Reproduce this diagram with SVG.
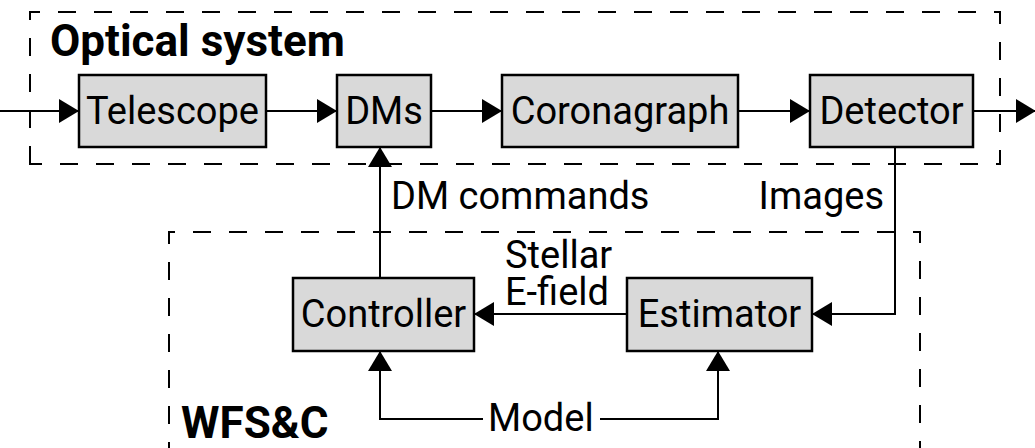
<svg xmlns="http://www.w3.org/2000/svg" width="1035" height="448" viewBox="0 0 1035 448">
<defs>
<marker id="ah" markerWidth="20" markerHeight="24" refX="20" refY="12" orient="auto" markerUnits="userSpaceOnUse">
<path d="M0,0 L20,12 L0,24 Z" fill="#000"/>
</marker>
<style>
.box{fill:#d9d9d9;stroke:#000;stroke-width:2.5}
.lbl{font-family:Roboto,"Liberation Sans",sans-serif;font-size:38px;fill:#000}
.ttl{font-family:Roboto,"Liberation Sans",sans-serif;font-size:44px;font-weight:bold;fill:#000}
.grp{fill:none;stroke:#000;stroke-width:2;stroke-dasharray:18 18}
.con{fill:none;stroke:#000;stroke-width:2}
</style>
</defs>
<rect width="1035" height="448" fill="#fff"/>
<g id="optical-system">
<path class="grp" d="M30,164 L30,12 L1000,12 L1000,164 Z"/>
<text class="ttl" x="50" y="56">Optical system</text>
</g>
<g id="wfsc">
<path class="grp" d="M169,460 L169,232 L920,232 L920,460"/>
<text class="ttl" x="181" y="438">WFS&amp;C</text>
</g>
<g id="connectors">
<path class="con" d="M0,111 L79,111" marker-end="url(#ah)"/>
<path class="con" d="M266,111 L337,111" marker-end="url(#ah)"/>
<path class="con" d="M431,111 L502,111" marker-end="url(#ah)"/>
<path class="con" d="M738,111 L810,111" marker-end="url(#ah)"/>
<path class="con" d="M973,111 L1036,111" marker-end="url(#ah)"/>
<path class="con" d="M895,147 L895,314 L812,314" marker-end="url(#ah)"/>
<path class="con" d="M627,314 L474,314" marker-end="url(#ah)"/>
<path class="con" d="M380,278 L380,147" marker-end="url(#ah)"/>
<path class="con" d="M483,419 L380,419 L380,351" marker-end="url(#ah)"/>
<path class="con" d="M600,419 L718,419 L718,351" marker-end="url(#ah)"/>
<text class="lbl" x="391" y="209">DM commands</text>
<text class="lbl" x="884" y="209" text-anchor="end">Images</text>
<text class="lbl" x="505" y="268">Stellar</text>
<text class="lbl" x="505" y="305">E-field</text>
<text class="lbl" x="488" y="431">Model</text>
</g>
<g id="telescope"><rect class="box" x="79" y="75" width="187" height="72"/><text class="lbl" x="172.5" y="124" text-anchor="middle">Telescope</text></g>
<g id="dms"><rect class="box" x="337" y="75" width="94" height="72"/><text class="lbl" x="384" y="124" text-anchor="middle">DMs</text></g>
<g id="coronagraph"><rect class="box" x="502" y="75" width="236" height="72"/><text class="lbl" x="620" y="124" text-anchor="middle">Coronagraph</text></g>
<g id="detector"><rect class="box" x="810" y="75" width="163" height="72"/><text class="lbl" x="891.5" y="124" text-anchor="middle">Detector</text></g>
<g id="controller"><rect class="box" x="293" y="278" width="181" height="73"/><text class="lbl" x="383.5" y="327" text-anchor="middle">Controller</text></g>
<g id="estimator"><rect class="box" x="627" y="278" width="185" height="73"/><text class="lbl" x="719.5" y="327" text-anchor="middle">Estimator</text></g>
</svg>
